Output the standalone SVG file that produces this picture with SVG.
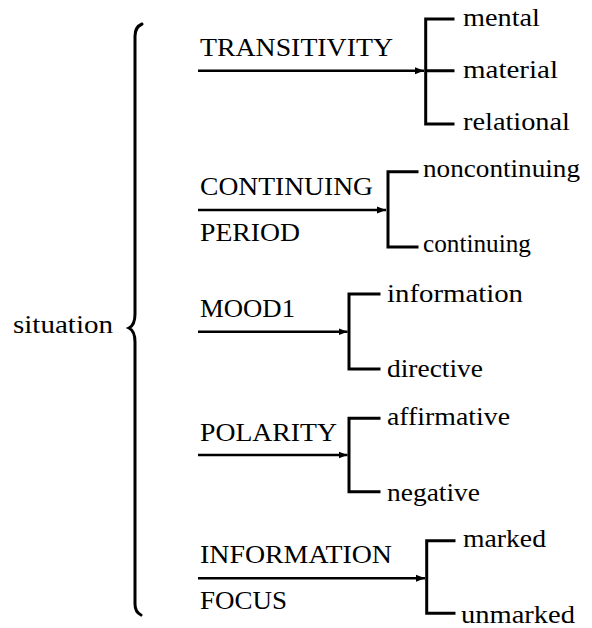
<svg xmlns="http://www.w3.org/2000/svg" width="592" height="628" viewBox="0 0 592 628">
  <style>
    text { font-family: 'Liberation Serif', 'Times New Roman', 'DejaVu Serif', 'Noto Serif', Times, serif; font-size: 26px; fill: #000; }
    .in { stroke: #000; stroke-width: 2.4; fill: none; }
    .br { stroke: #000; stroke-width: 3; fill: none; stroke-linecap: square; }
    .brace { stroke: #000; stroke-width: 3; fill: none; stroke-linecap: round; }
  </style>
  <defs>
    <marker id="arrow" markerUnits="userSpaceOnUse" markerWidth="10" markerHeight="8" refX="9" refY="4" orient="auto">
      <path d="M0,0.5 L9,4 L0,7.5 Z" fill="#000"/>
    </marker>
  </defs>

  <g id="situation">
    <text x="13" y="333" textLength="100" lengthAdjust="spacingAndGlyphs">situation</text>
    <path class="brace" d="M142,24 Q135,27 135,36 L135,314 Q135,325 129,328 Q135,331 135,342 L135,604 Q135,612 141,615"/>
  </g>

  <g id="connectors">
    <line class="in" x1="198" y1="70.7" x2="424" y2="70.7" marker-end="url(#arrow)"/>
    <line class="in" x1="198" y1="210" x2="386" y2="210" marker-end="url(#arrow)"/>
    <line class="in" x1="198" y1="331.7" x2="347.5" y2="331.7" marker-end="url(#arrow)"/>
    <line class="in" x1="198" y1="455" x2="347.5" y2="455" marker-end="url(#arrow)"/>
    <line class="in" x1="198" y1="578.3" x2="425" y2="578.3" marker-end="url(#arrow)"/>
  </g>

  <g id="transitivity">
    <text x="200" y="55.5" textLength="193" lengthAdjust="spacingAndGlyphs">TRANSITIVITY</text>
    <path class="br" d="M453,19 L425.7,19 L425.7,124 L453,124 M425.7,70.7 L453,70.7"/>
    <text x="463" y="26" textLength="77" lengthAdjust="spacingAndGlyphs">mental</text>
    <text x="463" y="78" textLength="95" lengthAdjust="spacingAndGlyphs">material</text>
    <text x="463" y="130" textLength="107" lengthAdjust="spacingAndGlyphs">relational</text>
  </g>

  <g id="continuing-period">
    <text x="200" y="195" textLength="173" lengthAdjust="spacingAndGlyphs">CONTINUING</text>
    <text x="200" y="240.5" textLength="100" lengthAdjust="spacingAndGlyphs">PERIOD</text>
    <path class="br" d="M417,171.7 L388,171.7 L388,247 L417,247"/>
    <text x="423" y="176.7" textLength="157" lengthAdjust="spacingAndGlyphs">noncontinuing</text>
    <text x="423" y="251.5" textLength="108" lengthAdjust="spacingAndGlyphs">continuing</text>
  </g>

  <g id="mood1">
    <text x="200" y="316.7" textLength="95" lengthAdjust="spacingAndGlyphs">MOOD1</text>
    <path class="br" d="M379,294 L349,294 L349,369 L379,369"/>
    <text x="387" y="302" textLength="136" lengthAdjust="spacingAndGlyphs">information</text>
    <text x="387" y="377" textLength="96" lengthAdjust="spacingAndGlyphs">directive</text>
  </g>

  <g id="polarity">
    <text x="200" y="441" textLength="137" lengthAdjust="spacingAndGlyphs">POLARITY</text>
    <path class="br" d="M379,418.3 L349,418.3 L349,491.7 L379,491.7"/>
    <text x="387" y="425" textLength="123" lengthAdjust="spacingAndGlyphs">affirmative</text>
    <text x="387" y="500.5" textLength="93" lengthAdjust="spacingAndGlyphs">negative</text>
  </g>

  <g id="information-focus">
    <text x="200" y="563.3" textLength="192" lengthAdjust="spacingAndGlyphs">INFORMATION</text>
    <text x="200" y="609" textLength="87" lengthAdjust="spacingAndGlyphs">FOCUS</text>
    <path class="br" d="M454,540.7 L426.7,540.7 L426.7,613.3 L454,613.3"/>
    <text x="463" y="546.7" textLength="83" lengthAdjust="spacingAndGlyphs">marked</text>
    <text x="461" y="623.3" textLength="114" lengthAdjust="spacingAndGlyphs">unmarked</text>
  </g>
</svg>
